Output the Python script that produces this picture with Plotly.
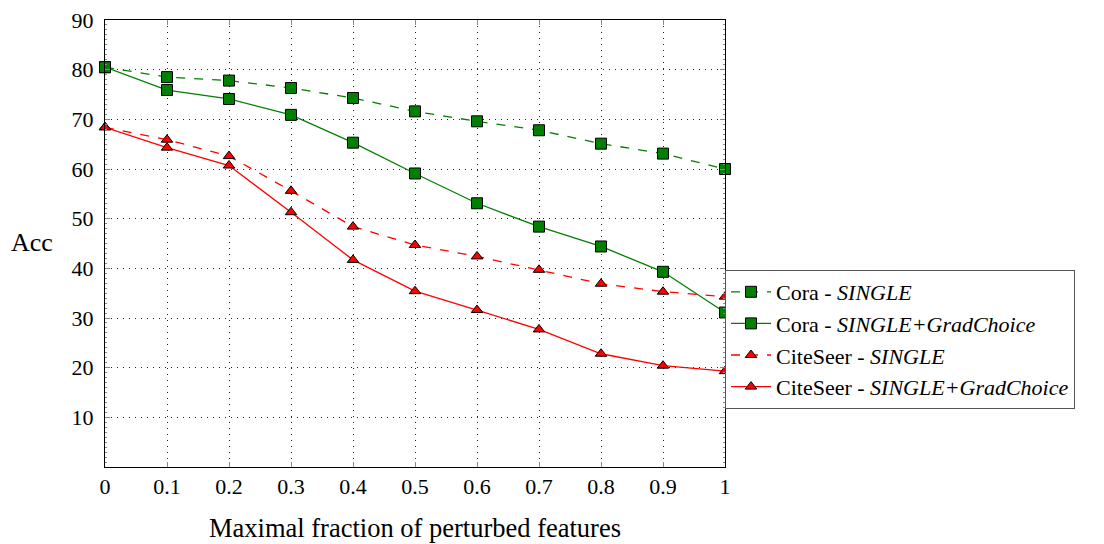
import plotly.graph_objects as go

x_vals = [0, 0.1, 0.2, 0.3, 0.4, 0.5, 0.6, 0.7, 0.8, 0.9, 1.0]
cora_single = [80.5, 78.5, 77.8, 76.3, 74.3, 71.6, 69.6, 67.8, 65.1, 63.1, 60.0]
cora_grad = [80.5, 75.9, 74.1, 70.9, 65.3, 59.1, 53.1, 48.4, 44.4, 39.3, 31.1]
cite_single = [68.4, 65.9, 62.6, 55.6, 48.4, 44.7, 42.4, 39.7, 36.9, 35.3, 34.3]
cite_grad = [68.4, 64.3, 60.7, 51.3, 41.7, 35.4, 31.6, 27.7, 22.8, 20.4, 19.3]

x_ticks = [0, 0.1, 0.2, 0.3, 0.4, 0.5, 0.6, 0.7, 0.8, 0.9, 1]
x_tick_labels = ["0", "0.1", "0.2", "0.3", "0.4", "0.5", "0.6", "0.7", "0.8", "0.9", "1"]
y_ticks = [10, 20, 30, 40, 50, 60, 70, 80, 90]

series = [
    ("Cora - <i>SINGLE</i>", cora_single, "#008000", "dash", "square"),
    ("Cora - <i>SINGLE+GradChoice</i>", cora_grad, "#008000", "solid", "square"),
    ("CiteSeer - <i>SINGLE</i>", cite_single, "#ff0000", "dash", "triangle-up"),
    ("CiteSeer - <i>SINGLE+GradChoice</i>", cite_grad, "#ff0000", "solid", "triangle-up"),
]

fig = go.Figure()
for name, ys, color, dash, sym in series:
    fig.add_trace(go.Scatter(
        x=x_vals, y=ys, name=name, mode="lines+markers",
        line=dict(color=color, width=1.3, dash=dash),
        marker=dict(symbol=sym, size=11 if sym == "square" else 10, color=color,
                    line=dict(color="black", width=1)),
        cliponaxis=False,
    ))

font_family = "Liberation Serif, Times New Roman, serif"
fig.update_layout(
    width=1104, height=544,
    margin=dict(l=105, r=379, t=20, b=77),
    paper_bgcolor="white", plot_bgcolor="white",
    font=dict(family=font_family, size=22, color="black"),
    showlegend=True,
    legend=dict(xref="container", yref="container", x=725 / 1104, xanchor="left",
                y=1 - 270 / 544, yanchor="top",
                bgcolor="white", bordercolor="#555555", borderwidth=1,
                font=dict(family=font_family, size=22), itemwidth=40,
                tracegroupgap=0),
    xaxis=dict(range=[0, 1], tickvals=x_ticks, ticktext=x_tick_labels,
               showgrid=True, gridcolor="#222222", griddash="1px,5px", gridwidth=1.2,
               showline=True, linecolor="black", linewidth=1, mirror="ticks",
               ticks="inside", ticklen=5, tickcolor="#888888",
               zeroline=False, automargin=False,
               tickfont=dict(size=22),
               title=dict(text="Maximal fraction of perturbed features", standoff=20,
                          font=dict(size=26.5))),
    yaxis=dict(range=[0, 90], tickvals=y_ticks,
               showgrid=True, gridcolor="#222222", griddash="1px,5px", gridwidth=1.2,
               showline=True, linecolor="black", linewidth=1, mirror="ticks",
               ticks="inside", ticklen=5, tickcolor="#888888",
               zeroline=False, automargin=False,
               tickfont=dict(size=22), ticklabelstandoff=6,
               minor=dict(dtick=1, ticks="inside", ticklen=2, tickcolor="#888888",
                          showgrid=False)),
)
fig.add_annotation(text="Acc", xref="paper", yref="paper", x=-0.08, y=0.503,
                   xanchor="right", yanchor="middle", showarrow=False,
                   font=dict(family=font_family, size=26))
fig.write_html("out.html", config={"displayModeBar": False},
               post_script="document.body.style.margin='0';document.body.style.padding='0';")
